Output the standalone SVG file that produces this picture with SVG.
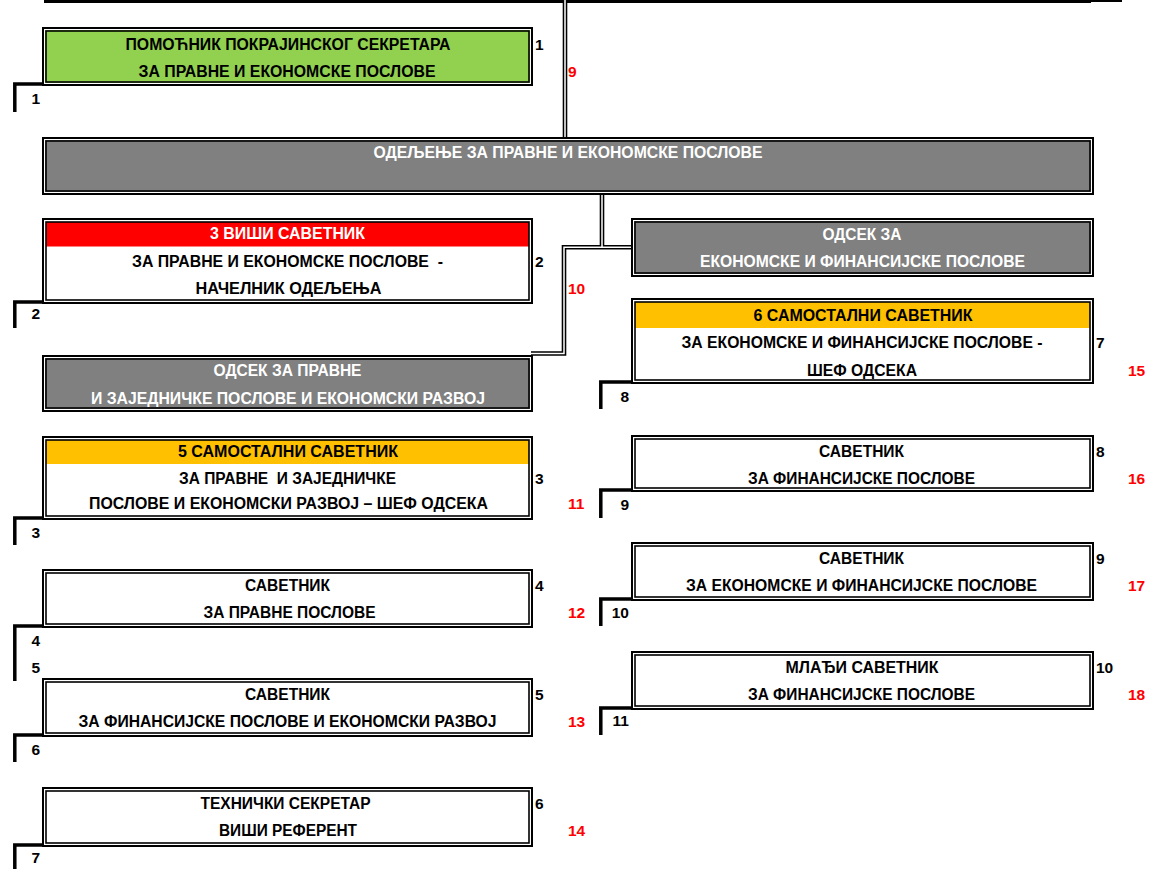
<svg xmlns="http://www.w3.org/2000/svg" width="1151" height="869" viewBox="0 0 1151 869">
<style>
text{font-family:"Liberation Sans",Arial,sans-serif;font-weight:bold;font-size:15.5px}
.t{text-anchor:middle;fill:#000;font-size:16px}
.w{text-anchor:middle;fill:#fff;font-size:16px}
.n{fill:#000}
.r{fill:#ff0000}
.e{text-anchor:end;fill:#000}
.ob{fill:#fff;stroke:#000;stroke-width:2}
.ib{fill:none;stroke:#000;stroke-width:1.6}
.green{fill:#92d050}
.gray{fill:#808080}
.red{fill:#ff0000}
.yel{fill:#ffc000}
.dbl1{fill:none;stroke:#000;stroke-width:4.6}
.dbl2{fill:none;stroke:#fff;stroke-width:1.5}
.br{fill:none;stroke:#000;stroke-width:3.5}
</style>
<rect width="1151" height="869" fill="#fff"/>
<g id="connectors">
<rect x="44" y="0" width="1047" height="3" fill="#000"/>
<rect x="1091" y="0" width="31" height="2" fill="#000"/>
<path class="dbl1" d="M565,0 V139 M602,194 V247.3 M633,247.3 H564 V353.5 H531"/>
<path class="dbl2" d="M565,0 V139 M602,194 V247.3 M633,247.3 H564 V353.5 H531"/>
</g>
<g id="brackets">
<path class="br" d="M42,84 H14.8 V112"/>
<path class="br" d="M42,302 H14.8 V328"/>
<path class="br" d="M42,518 H14.8 V545"/>
<path class="br" d="M42,626 H14.8 V681"/>
<path class="br" d="M42,735 H14.8 V762"/>
<path class="br" d="M42,845 H14.8 V869"/>
<path class="br" d="M631,382 H600.8 V409"/>
<path class="br" d="M631,490 H600.8 V518"/>
<path class="br" d="M631,599 H600.8 V626"/>
<path class="br" d="M631,708 H600.8 V735"/>
<text class="e" x="40" y="103.5">1</text>
<text class="e" x="40" y="318.5">2</text>
<text class="e" x="40" y="537.5">3</text>
<text class="e" x="40" y="645.5">4</text>
<text class="e" x="40" y="672.5">5</text>
<text class="e" x="40" y="754.5">6</text>
<text class="e" x="40" y="862.5">7</text>
<text class="e" x="629" y="401.5">8</text>
<text class="e" x="629" y="509.5">9</text>
<text class="e" x="629" y="617.5">10</text>
<text class="e" x="629" y="725.5">11</text>
</g>
<g id="n-pomocnik">
<rect class="ob" x="43" y="28" width="489" height="57"/>
<rect class="green" x="45" y="30" width="485" height="53"/>
<rect class="ib" x="46" y="31" width="483" height="51"/>
<text class="t" x="288" y="49.7" textLength="325" lengthAdjust="spacingAndGlyphs">ПОМОЋНИК ПОКРАЈИНСКОГ СЕКРЕТАРА</text>
<text class="t" x="287" y="76.7" textLength="297" lengthAdjust="spacingAndGlyphs">ЗА ПРАВНЕ И ЕКОНОМСКЕ ПОСЛОВЕ</text>
<text class="n" x="535" y="49.5">1</text>
<text class="r" x="568" y="76.5">9</text>
</g>
<g id="n-odeljenje">
<rect class="ob" x="43" y="138" width="1050" height="56"/>
<rect class="gray" x="45" y="140" width="1046" height="52"/>
<rect class="ib" x="46" y="141" width="1044" height="50"/>
<text class="w" x="568" y="158.2" textLength="389" lengthAdjust="spacingAndGlyphs">ОДЕЉЕЊЕ ЗА ПРАВНЕ И ЕКОНОМСКЕ ПОСЛОВЕ</text>
</g>
<g id="n-visi-savetnik">
<rect class="ob" x="43" y="219" width="489" height="84"/>
<rect class="red" x="46" y="222" width="483" height="24.5"/>
<rect class="ib" x="46" y="222" width="483" height="78"/>
<text class="w" x="287.5" y="238.7" textLength="155" lengthAdjust="spacingAndGlyphs">3 ВИШИ САВЕТНИК</text>
<text class="t" x="287.5" y="266.7" textLength="311" lengthAdjust="spacingAndGlyphs" xml:space="preserve">ЗА ПРАВНЕ И ЕКОНОМСКЕ ПОСЛОВЕ  -</text>
<text class="t" x="288.5" y="294.2" textLength="186" lengthAdjust="spacingAndGlyphs">НАЧЕЛНИК ОДЕЉЕЊА</text>
<text class="n" x="535" y="266.5">2</text>
<text class="r" x="568" y="294">10</text>
</g>
<g id="n-odsek-pravne">
<rect class="ob" x="43" y="356" width="489" height="55"/>
<rect class="gray" x="45" y="358" width="485" height="51"/>
<rect class="ib" x="46" y="359" width="483" height="49"/>
<text class="w" x="287.5" y="376.2" textLength="148" lengthAdjust="spacingAndGlyphs">ОДСЕК ЗА ПРАВНЕ</text>
<text class="w" x="288" y="403.7" textLength="394" lengthAdjust="spacingAndGlyphs">И ЗАЈЕДНИЧКЕ ПОСЛОВЕ И ЕКОНОМСКИ РАЗВОЈ</text>
</g>
<g id="n-samostalni-5">
<rect class="ob" x="43" y="437" width="489" height="82"/>
<rect class="yel" x="46" y="440" width="483" height="24"/>
<rect class="ib" x="46" y="440" width="483" height="76"/>
<text class="t" x="288" y="457.2" textLength="220" lengthAdjust="spacingAndGlyphs">5 САМОСТАЛНИ САВЕТНИК</text>
<text class="t" x="287.5" y="483.7" textLength="217" lengthAdjust="spacingAndGlyphs" xml:space="preserve">ЗА ПРАВНЕ  И ЗАЈЕДНИЧКЕ</text>
<text class="t" x="288.5" y="509.2" textLength="399" lengthAdjust="spacingAndGlyphs">ПОСЛОВЕ И ЕКОНОМСКИ РАЗВОЈ – ШЕФ ОДСЕКА</text>
<text class="n" x="535" y="483.5">3</text>
<text class="r" x="568" y="509">11</text>
</g>
<g id="n-savetnik-pravne">
<rect class="ob" x="43" y="570" width="489" height="57"/>
<rect class="ib" x="46" y="573" width="483" height="51"/>
<text class="t" x="287.5" y="591.2" textLength="85" lengthAdjust="spacingAndGlyphs">САВЕТНИК</text>
<text class="t" x="289.5" y="618.2" textLength="172" lengthAdjust="spacingAndGlyphs">ЗА ПРАВНЕ ПОСЛОВЕ</text>
<text class="n" x="535" y="591">4</text>
<text class="r" x="568" y="618">12</text>
</g>
<g id="n-savetnik-fin-razvoj">
<rect class="ob" x="43" y="679" width="489" height="57"/>
<rect class="ib" x="46" y="682" width="483" height="51"/>
<text class="t" x="287.5" y="699.7" textLength="85" lengthAdjust="spacingAndGlyphs">САВЕТНИК</text>
<text class="t" x="287.5" y="726.7" textLength="418" lengthAdjust="spacingAndGlyphs">ЗА ФИНАНСИЈСКЕ ПОСЛОВЕ И ЕКОНОМСКИ РАЗВОЈ</text>
<text class="n" x="535" y="699.5">5</text>
<text class="r" x="568" y="726.5">13</text>
</g>
<g id="n-tehnicki">
<rect class="ob" x="43" y="788" width="489" height="58"/>
<rect class="ib" x="46" y="791" width="483" height="52"/>
<text class="t" x="285.5" y="809.2" textLength="170" lengthAdjust="spacingAndGlyphs">ТЕХНИЧКИ СЕКРЕТАР</text>
<text class="t" x="288" y="835.7" textLength="138" lengthAdjust="spacingAndGlyphs">ВИШИ РЕФЕРЕНТ</text>
<text class="n" x="535" y="809">6</text>
<text class="r" x="568" y="835.5">14</text>
</g>
<g id="n-odsek-ekonomske">
<rect class="ob" x="632" y="219" width="461" height="57"/>
<rect class="gray" x="634" y="221" width="457" height="53"/>
<rect class="ib" x="635" y="222" width="455" height="51"/>
<text class="w" x="862" y="239.7" textLength="79" lengthAdjust="spacingAndGlyphs">ОДСЕК ЗА</text>
<text class="w" x="862.5" y="267.2" textLength="325" lengthAdjust="spacingAndGlyphs">ЕКОНОМСКЕ И ФИНАНСИЈСКЕ ПОСЛОВЕ</text>
</g>
<g id="n-samostalni-6">
<rect class="ob" x="632" y="299" width="461" height="84"/>
<rect class="yel" x="635" y="302" width="455" height="26"/>
<rect class="ib" x="635" y="302" width="455" height="78"/>
<text class="t" x="863" y="321.2" textLength="219" lengthAdjust="spacingAndGlyphs">6 САМОСТАЛНИ САВЕТНИК</text>
<text class="t" x="862" y="348.2" textLength="361" lengthAdjust="spacingAndGlyphs">ЗА ЕКОНОМСКЕ И ФИНАНСИЈСКЕ ПОСЛОВЕ -</text>
<text class="t" x="862" y="375.7" textLength="110" lengthAdjust="spacingAndGlyphs">ШЕФ ОДСЕКА</text>
<text class="n" x="1096" y="348">7</text>
<text class="r" x="1128" y="375.5">15</text>
</g>
<g id="n-savetnik-fin">
<rect class="ob" x="632" y="436" width="461" height="55"/>
<rect class="ib" x="635" y="439" width="455" height="49"/>
<text class="t" x="861.5" y="456.7" textLength="85" lengthAdjust="spacingAndGlyphs">САВЕТНИК</text>
<text class="t" x="861.5" y="483.7" textLength="227" lengthAdjust="spacingAndGlyphs">ЗА ФИНАНСИЈСКЕ ПОСЛОВЕ</text>
<text class="n" x="1096" y="456.5">8</text>
<text class="r" x="1128" y="483.5">16</text>
</g>
<g id="n-savetnik-ek-fin">
<rect class="ob" x="632" y="543" width="461" height="57"/>
<rect class="ib" x="635" y="546" width="455" height="51"/>
<text class="t" x="861.5" y="564.2" textLength="85" lengthAdjust="spacingAndGlyphs">САВЕТНИК</text>
<text class="t" x="861.5" y="591.2" textLength="351" lengthAdjust="spacingAndGlyphs">ЗА ЕКОНОМСКЕ И ФИНАНСИЈСКЕ ПОСЛОВЕ</text>
<text class="n" x="1096" y="564">9</text>
<text class="r" x="1128" y="591">17</text>
</g>
<g id="n-mladji">
<rect class="ob" x="632" y="652" width="461" height="57"/>
<rect class="ib" x="635" y="655" width="455" height="51"/>
<text class="t" x="862" y="672.7" textLength="153" lengthAdjust="spacingAndGlyphs">МЛАЂИ САВЕТНИК</text>
<text class="t" x="861.5" y="699.7" textLength="227" lengthAdjust="spacingAndGlyphs">ЗА ФИНАНСИЈСКЕ ПОСЛОВЕ</text>
<text class="n" x="1096" y="672.5">10</text>
<text class="r" x="1128" y="699.5">18</text>
</g>
</svg>
